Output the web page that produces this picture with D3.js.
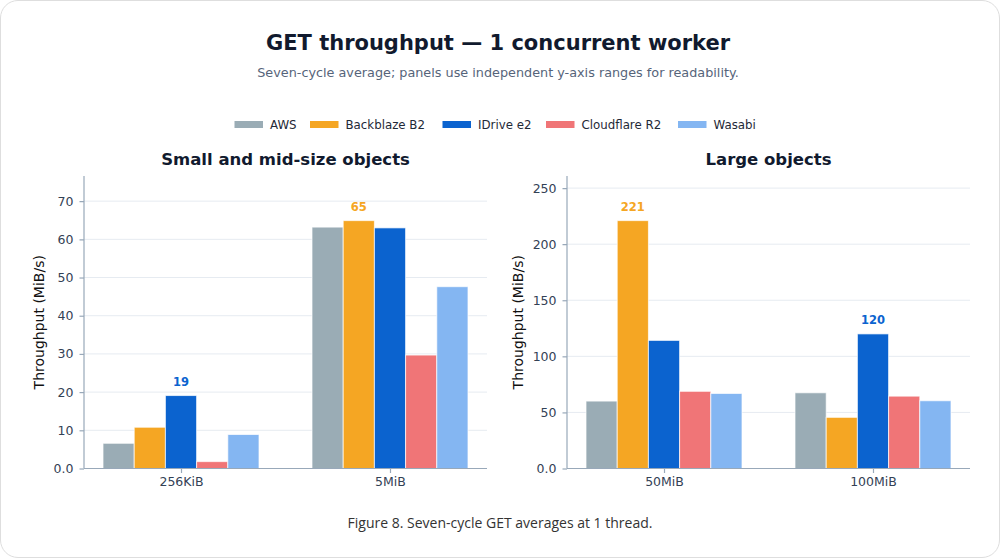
<!DOCTYPE html>
<html>
<head>
<meta charset="utf-8">
<script src="https://cdn.jsdelivr.net/npm/d3@7"></script>
<style>
  html, body { margin: 0; padding: 0; background: #fff; }
  .card {
    position: absolute; left: 0; top: 0;
    width: 998px; height: 556px;
    border: 1px solid #dedede; border-radius: 18px;
    background: #fff; overflow: hidden;
  }
  .caption {
    position: absolute; left: 0; width: 998px; top: 512px;
    text-align: center; font-family: "Open Sans", sans-serif;
    font-size: 14px; color: #333;
  }
  svg text { font-family: "DejaVu Sans", sans-serif; }
</style>
</head>
<body>
<div class="card">
  <div id="chart"></div>
  <div class="caption">Figure 8. Seven-cycle GET averages at 1 thread.</div>
</div>
<script>
// Data.
const providers = ["AWS", "Backblaze B2", "IDrive e2", "Cloudflare R2", "Wasabi"];
const colors = ["#9aacb5", "#f5a623", "#0b63cf", "#f07577", "#84b6f2"];

const smallCats = ["256KiB", "5MiB"];
const smallValues = [
  [6.6, 10.8, 19.1, 1.8, 8.9],   // 256KiB
  [63.2, 64.9, 63.0, 29.7, 47.6] // 5MiB
];
const smallTicks = [0, 10, 20, 30, 40, 50, 60, 70];

const largeCats = ["50MiB", "100MiB"];
const largeValues = [
  [60.1, 221.0, 114.2, 68.8, 66.9], // 50MiB
  [67.5, 45.6, 120.0, 64.5, 60.4]   // 100MiB
];
const largeTicks = [0, 50, 100, 150, 200, 250];

// Base.
const W = 998, H = 510;
const svg = d3.select("#chart").append("svg")
  .attr("width", W).attr("height", H);

// Header.
svg.append("text")
  .attr("x", 497).attr("y", 49)
  .attr("text-anchor", "middle")
  .style("font-size", "21px").style("font-weight", "bold")
  .style("fill", "#111a2e")
  .text("GET throughput — 1 concurrent worker");

svg.append("text")
  .attr("x", 497).attr("y", 76)
  .attr("text-anchor", "middle")
  .style("font-size", "12.8px")
  .style("fill", "#56647a")
  .text("Seven-cycle average; panels use independent y-axis ranges for readability.");

// Legend.
const legendX = [233.5, 309, 441.5, 545, 677];
const legend = svg.append("g").attr("class", "legend");
providers.forEach((p, i) => {
  legend.append("rect")
    .attr("x", legendX[i]).attr("y", 120)
    .attr("width", 28.5).attr("height", 7)
    .style("fill", colors[i]);
  legend.append("text")
    .attr("x", legendX[i] + 35.5).attr("y", 127.5)
    .style("font-size", "11.8px").style("fill", "#1f2937")
    .text(p);
});

// Panels.
function drawPanel(opts) {
  const { left, right, top, bottom, cats, values, ticks, title, labelOffset } = opts;
  const g = svg.append("g");
  const allMax = d3.max(values.flat());

  const y = d3.scaleLinear().domain([0, allMax * 1.18]).range([bottom, top]);
  const x0 = d3.scaleBand().domain(cats).range([left, right])
    .paddingInner(0.2536).paddingOuter(0.091);
  const x1 = d3.scaleBand().domain(providers).range([0, x0.bandwidth()]);

  // Grid.
  g.append("g").selectAll("line")
    .data(ticks.filter((t) => t > 0))
    .join("line")
    .attr("x1", left).attr("x2", right)
    .attr("y1", (d) => y(d)).attr("y2", (d) => y(d))
    .style("stroke", "#e6ebf1").style("stroke-width", 1);

  // Bars.
  cats.forEach((c, ci) => {
    const grp = g.append("g");
    grp.selectAll("rect")
      .data(values[ci])
      .join("rect")
      .attr("x", (d, i) => x0(c) + x1(providers[i]))
      .attr("y", (d) => y(d))
      .attr("width", x1.bandwidth())
      .attr("height", (d) => y(0) - y(d))
      .style("fill", (d, i) => colors[i])
      .style("stroke", "rgba(255,255,255,0.7)")
      .style("stroke-width", 1);

    // Max label.
    const mi = d3.maxIndex(values[ci]);
    const mv = values[ci][mi];
    grp.append("text")
      .attr("x", x0(c) + x1(providers[mi]) + x1.bandwidth() / 2)
      .attr("y", y(mv) - 10)
      .attr("text-anchor", "middle")
      .style("font-size", "11.5px").style("font-weight", "bold")
      .style("fill", colors[mi])
      .text(Math.round(mv));
  });

  // Axes.
  const yAxis = d3.axisLeft(y).tickValues(ticks).tickSize(4.5).tickPadding(6)
    .tickFormat((d) => (d === 0 ? "0.0" : d));
  const yAxisDraw = g.append("g")
    .attr("transform", `translate(${left},0)`)
    .call(yAxis);
  yAxisDraw.select(".domain").attr("d", `M0,${top}V${bottom}`);

  const xAxis = d3.axisBottom(d3.scalePoint().domain(cats)
      .range([x0(cats[0]) + x0.bandwidth() / 2, x0(cats[1]) + x0.bandwidth() / 2]))
    .tickSize(4.5).tickPadding(4);
  const xAxisDraw = g.append("g")
    .attr("transform", `translate(0,${bottom})`)
    .call(xAxis);
  xAxisDraw.select(".domain").attr("d", `M${left},0H${right}`);

  [yAxisDraw, xAxisDraw].forEach((a) => {
    a.selectAll(".domain, line").style("stroke", "#98a8b9").style("stroke-width", 1.2);
    a.selectAll("text")
      .style("font-size", "12.5px").style("fill", "#334155")
      .style("font-family", "DejaVu Sans, sans-serif");
  });

  // Y label.
  g.append("text")
    .attr("transform", `translate(${left - labelOffset},${(top + bottom) / 2}) rotate(-90)`)
    .attr("text-anchor", "middle")
    .style("font-size", "14px").style("fill", "#111")
    .text("Throughput (MiB/s)");

  // Panel title.
  g.append("text")
    .attr("x", (left + right) / 2).attr("y", 164)
    .attr("text-anchor", "middle")
    .style("font-size", "16.5px").style("font-weight", "bold")
    .style("fill", "#111a2e")
    .text(title);
}

drawPanel({
  left: 83, right: 486, top: 175, bottom: 467.5,
  cats: smallCats, values: smallValues, ticks: smallTicks,
  title: "Small and mid-size objects", labelOffset: 40,
});

drawPanel({
  left: 566, right: 969, top: 175, bottom: 467.5,
  cats: largeCats, values: largeValues, ticks: largeTicks,
  title: "Large objects", labelOffset: 44,
});
</script>
</body>
</html>
